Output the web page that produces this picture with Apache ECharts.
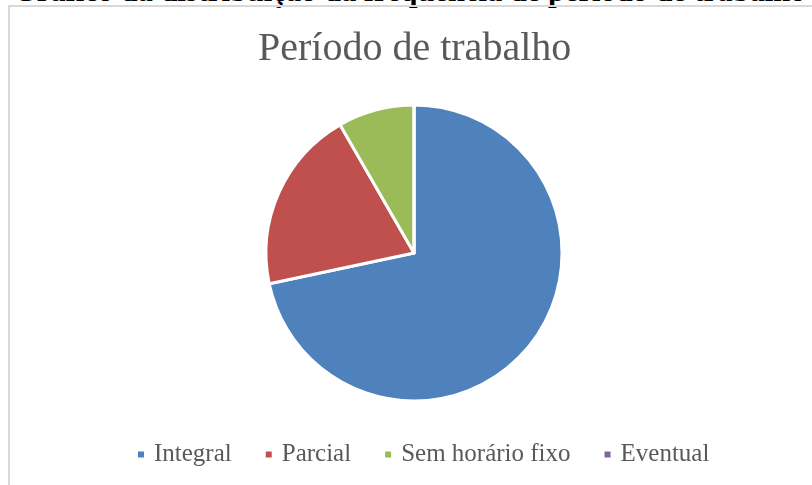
<!DOCTYPE html>
<html>
<head>
<meta charset="utf-8">
<script src="https://cdn.jsdelivr.net/npm/echarts@6/dist/echarts.min.js"></script>
<style>
  html, body { margin: 0; padding: 0; background: #fff; overflow: hidden; }
  #cap {
    position: absolute; left: 13px; top: -24px; white-space: nowrap;
    font: bold 30.5px/30px "Liberation Serif", serif; color: #000;
  }
  #frame {
    position: absolute; left: 8px; top: 5px; width: 820px; height: 500px;
    border: 2px solid #d9d9d9; box-sizing: border-box;
  }
  #pie { position: absolute; left: 0; top: 0; width: 812px; height: 485px; }
</style>
</head>
<body>
<div id="cap">Gráfico da distribuição da frequência de período de trabalho</div>
<div id="frame"></div>
<div id="pie"></div>
<script>
!function(){
    var categories = ['Integral', 'Parcial', 'Sem horário fixo', 'Eventual'];
    var values = [43, 12, 5, 0];
    var colors = ['#4F81BD', '#C0504D', '#9BBB59', '#8064A2'];

    var myChart = echarts.init(document.getElementById('pie'));

    var option = {
        color: colors,
        title: {
            text: 'Período de trabalho',
            left: 258,
            top: 29,
            padding: 0,
            textStyle: {
                fontFamily: 'Liberation Serif',
                fontWeight: 'normal',
                fontSize: 40,
                color: '#595959'
            }
        },
        legend: {
            bottom: 13,
            left: 131,
            icon: 'rect',
            itemWidth: 8,
            itemHeight: 8,
            itemGap: 32,
            textStyle: {
                fontFamily: 'Liberation Serif',
                fontSize: 25,
                color: '#595959',
                padding: [0, 0, 0, 4]
            },
            data: categories
        },
        series: [
            {
                name: 'Período de trabalho',
                type: 'pie',
                center: [414, 253],
                radius: [0, 148],
                startAngle: 90,
                clockwise: true,
                label: { show: false },
                labelLine: { show: false },
                itemStyle: { borderColor: '#fff', borderWidth: 3 },
                emphasis: { disabled: true },
                data: categories.map(function (c, i) {
                    return { name: c, value: values[i] };
                })
            }
        ]
    };

    myChart.setOption(option);
}()
</script>
</body>
</html>
